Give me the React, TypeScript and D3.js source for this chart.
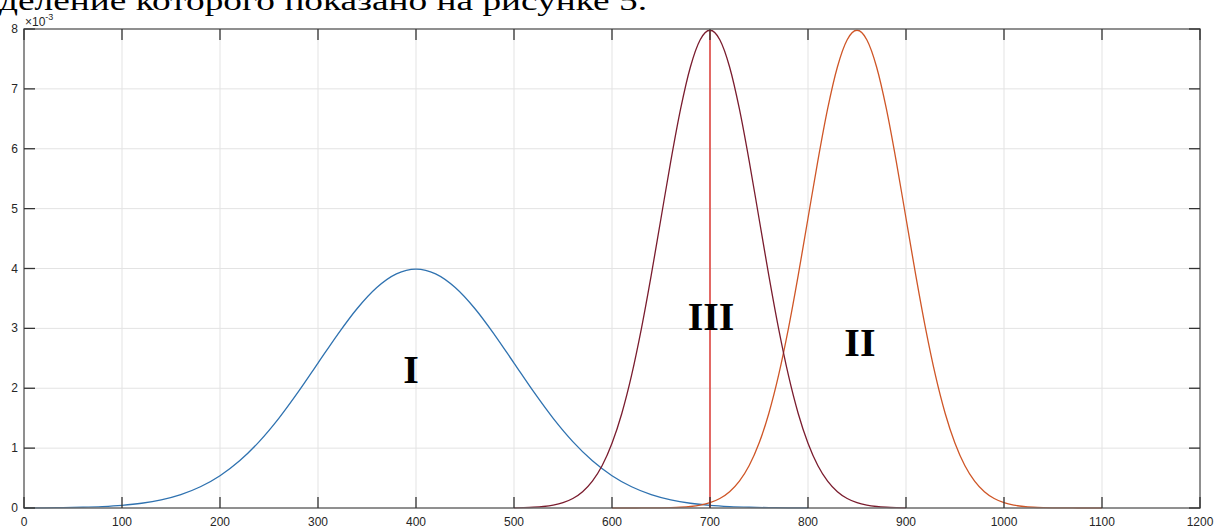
import React from "react";
import * as d3 from "d3";

const xTicks = [0, 100, 200, 300, 400, 500, 600, 700, 800, 900, 1000, 1100, 1200];
const yTicks = [0, 1, 2, 3, 4, 5, 6, 7, 8];

// values in units of 1e-3
const curveI: [number, number][] = [
  [0, 0.0013], [20, 0.0029], [40, 0.0061], [60, 0.0123], [80, 0.0239], [100, 0.0443],
  [120, 0.0791], [140, 0.136], [160, 0.224], [180, 0.355], [200, 0.54], [220, 0.789],
  [240, 1.109], [260, 1.497], [280, 1.942], [300, 2.42], [320, 2.897], [340, 3.332],
  [360, 3.682], [380, 3.91], [400, 3.989], [420, 3.91], [440, 3.682], [460, 3.332],
  [480, 2.897], [500, 2.42], [520, 1.942], [540, 1.497], [560, 1.109], [580, 0.789],
  [600, 0.54], [620, 0.355], [640, 0.224], [660, 0.136], [680, 0.0791], [700, 0.0443],
  [720, 0.0239], [740, 0.0123], [760, 0.0061], [780, 0.0029], [800, 0.0013],
];

const curveIII: [number, number][] = [
  [500, 0.0027], [510, 0.0058], [520, 0.0122], [530, 0.0247], [540, 0.0477], [550, 0.0886],
  [560, 0.158], [570, 0.272], [580, 0.448], [590, 0.709], [600, 1.08], [610, 1.579],
  [620, 2.218], [630, 2.995], [640, 3.884], [650, 4.839], [660, 5.794], [670, 6.665],
  [680, 7.366], [690, 7.821], [700, 7.979], [710, 7.821], [720, 7.366], [730, 6.665],
  [740, 5.794], [750, 4.839], [760, 3.884], [770, 2.995], [780, 2.218], [790, 1.579],
  [800, 1.08], [810, 0.709], [820, 0.448], [830, 0.272], [840, 0.158], [850, 0.0886],
  [860, 0.0477], [870, 0.0247], [880, 0.0122], [890, 0.0058], [900, 0.0027],
];

const curveII: [number, number][] = [
  [600, 0.00003], [610, 0.0001], [620, 0.0002], [630, 0.0005], [640, 0.0012], [650, 0.0027],
  [660, 0.0058], [670, 0.0122], [680, 0.0247], [690, 0.0477], [700, 0.0886], [710, 0.158],
  [720, 0.272], [730, 0.448], [740, 0.709], [750, 1.08], [760, 1.579], [770, 2.218],
  [780, 2.995], [790, 3.884], [800, 4.839], [810, 5.794], [820, 6.665], [830, 7.366],
  [840, 7.821], [850, 7.979], [860, 7.821], [870, 7.366], [880, 6.665], [890, 5.794],
  [900, 4.839], [910, 3.884], [920, 2.995], [930, 2.218], [940, 1.579], [950, 1.08],
  [960, 0.709], [970, 0.448], [980, 0.272], [990, 0.158], [1000, 0.0886], [1010, 0.0477],
  [1020, 0.0247], [1030, 0.0122], [1040, 0.0058], [1050, 0.0027], [1060, 0.0012],
  [1070, 0.0005], [1080, 0.0002], [1090, 0.0001], [1100, 0.00003],
];

const markerLine: [number, number][] = [[700, 0], [700, 7.979]];

const labels = [
  { text: "I", x: 395, y: 2.09 },
  { text: "III", x: 701, y: 2.97 },
  { text: "II", x: 853, y: 2.54 },
];

const topText = "деление которого показано на рисунке 5.";

const serif = "Liberation Serif, Times New Roman, Tinos, serif";
const sans = "Liberation Sans, Arial, Helvetica, sans-serif";

export default function App() {
  const W = 1216, H = 528;
  const x = d3.scaleLinear().domain([0, 1200]).range([24, 1200]);
  const y = d3.scaleLinear().domain([0, 8]).range([508, 29]);
  const line = d3.line<[number, number]>().x(d => x(d[0])).y(d => y(d[1])).curve(d3.curveMonotoneX);
  const [x0, x1] = x.range();
  const [y0, y1] = y.range();
  const tickLen = 11;
  const axisStyle = { fontFamily: sans, fontSize: "12px" };
  return (
    <svg width={W} height={H} style={{ position: "absolute", left: 0, top: 0, background: "#fff" }}>
      <text x={-1} y={10} style={{ fontFamily: serif, fontSize: "28px" }}
        textLength={648} lengthAdjust="spacingAndGlyphs" fill="#000">{topText}</text>
      {/* grid */}
      {xTicks.map(t => (
        <line key={"gx" + t} x1={x(t)} x2={x(t)} y1={y0} y2={y1} stroke="#e3e3e3" strokeWidth={1} />
      ))}
      {yTicks.map(t => (
        <line key={"gy" + t} x1={x0} x2={x1} y1={y(t)} y2={y(t)} stroke="#e3e3e3" strokeWidth={1} />
      ))}
      {/* curves */}
      <path d={line(curveI) || ""} fill="none" stroke="#2f72b0" strokeWidth={1.3} />
      <path d={line(curveII) || ""} fill="none" stroke="#cf5627" strokeWidth={1.3} />
      <path d={line(curveIII) || ""} fill="none" stroke="#7a1c2e" strokeWidth={1.3} />
      <path d={d3.line<[number, number]>().x(d => x(d[0])).y(d => y(d[1]))(markerLine) || ""}
        fill="none" stroke="#de3b36" strokeWidth={1.5} />
      {/* box */}
      <rect x={x0} y={y1} width={x1 - x0} height={y0 - y1} fill="none" stroke="#6f6f6f" strokeWidth={1.5} />
      {/* ticks */}
      {xTicks.map(t => (
        <g key={"tx" + t}>
          <line x1={x(t)} x2={x(t)} y1={y0} y2={y0 - tickLen} stroke="#333" strokeWidth={1.3} />
          <line x1={x(t)} x2={x(t)} y1={y1} y2={y1 + tickLen} stroke="#333" strokeWidth={1.3} />
          <text x={x(t)} y={526} textAnchor="middle" style={axisStyle} fill="#262626">{t}</text>
        </g>
      ))}
      {yTicks.map(t => (
        <g key={"ty" + t}>
          <line x1={x0} x2={x0 + tickLen} y1={y(t)} y2={y(t)} stroke="#333" strokeWidth={1.3} />
          <line x1={x1} x2={x1 - tickLen} y1={y(t)} y2={y(t)} stroke="#333" strokeWidth={1.3} />
          <text x={18} y={y(t) + 4} textAnchor="end" style={axisStyle} fill="#262626">{t}</text>
        </g>
      ))}
      <text x={25} y={26} style={axisStyle} fill="#262626">
        ×10<tspan style={{ fontSize: "9px" }} dy={-6}>-3</tspan>
      </text>
      {/* labels */}
      {labels.map(l => (
        <text key={l.text} x={x(l.x)} y={y(l.y)} textAnchor="middle"
          style={{ fontFamily: serif, fontWeight: "bold", fontSize: "40px" }} fill="#000">{l.text}</text>
      ))}
    </svg>
  );
}
